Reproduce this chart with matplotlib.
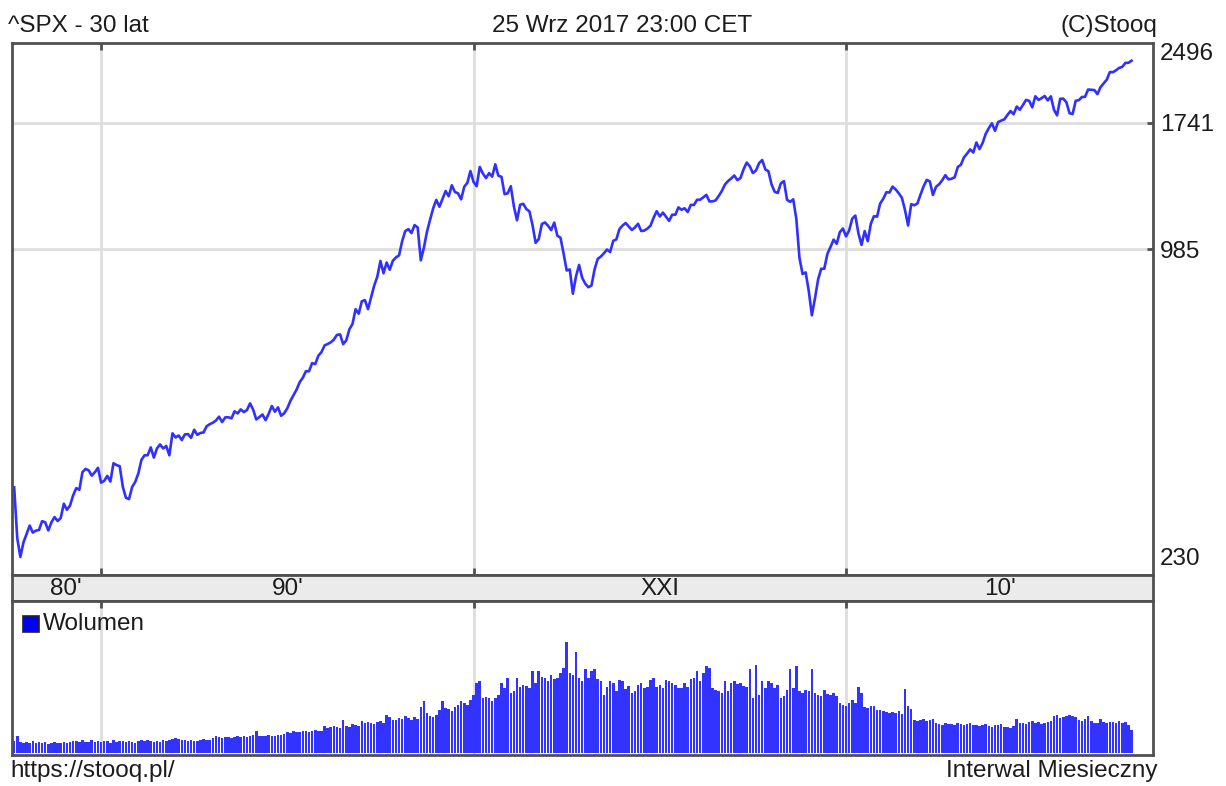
import numpy as np
import matplotlib
matplotlib.use('Agg')
import matplotlib.pyplot as plt
from matplotlib.patches import Rectangle

# ^SPX - zamknięcia miesięczne, od wrz 1987 do wrz 2017
close = [
    321.83, 251.79, 230.30, 247.08,
    257.07, 267.82, 258.89, 261.33, 262.16, 273.50, 272.02, 261.52, 271.91, 278.97, 273.70, 277.72,
    297.47, 288.86, 294.87, 309.64, 320.52, 317.98, 346.08, 351.45, 349.15, 340.36, 345.99, 353.40,
    329.08, 331.89, 339.94, 330.80, 361.23, 358.02, 356.15, 322.56, 306.05, 304.00, 322.22, 330.22,
    343.93, 367.07, 375.22, 375.35, 389.83, 371.16, 387.81, 395.43, 387.86, 392.45, 375.22, 417.09,
    408.79, 412.70, 403.69, 414.95, 415.35, 408.14, 424.21, 414.03, 417.80, 418.68, 431.35, 435.71,
    438.78, 443.38, 451.67, 440.19, 450.19, 450.53, 448.13, 463.56, 458.93, 467.83, 461.79, 466.45,
    481.61, 467.14, 445.77, 450.91, 456.50, 444.27, 458.26, 475.49, 462.69, 472.35, 453.69, 459.27,
    470.42, 487.39, 500.71, 514.71, 533.40, 544.75, 562.06, 561.88, 584.41, 581.50, 605.37, 615.93,
    636.02, 640.43, 645.50, 654.17, 669.12, 670.63, 639.95, 651.99, 687.31, 705.27, 757.02, 740.74,
    786.16, 790.82, 757.12, 801.34, 848.28, 885.14, 954.31, 899.47, 947.28, 914.62, 955.40, 970.43,
    980.28, 1049.34, 1101.75, 1111.75, 1090.82, 1133.84, 1120.67, 957.28, 1017.01, 1098.67, 1163.63, 1229.23,
    1279.64, 1238.33, 1286.37, 1335.18, 1301.84, 1372.71, 1328.72, 1320.41, 1282.71, 1362.93, 1388.91, 1469.25,
    1394.46, 1366.42, 1498.58, 1452.43, 1420.60, 1454.60, 1430.83, 1517.68, 1436.51, 1429.40, 1314.95, 1320.28,
    1366.01, 1239.94, 1160.33, 1249.46, 1255.82, 1224.42, 1211.23, 1133.58, 1040.94, 1059.78, 1139.45, 1148.08,
    1130.20, 1106.73, 1147.39, 1076.92, 1067.14, 989.82, 911.62, 916.07, 815.28, 885.76, 936.31, 879.82,
    855.70, 841.15, 848.18, 916.92, 963.59, 974.50, 990.31, 1008.01, 995.97, 1050.71, 1058.20, 1111.92,
    1131.13, 1144.94, 1126.21, 1107.30, 1120.68, 1140.84, 1101.72, 1104.24, 1114.58, 1130.20, 1173.82, 1211.92,
    1181.27, 1203.60, 1180.59, 1156.85, 1191.50, 1191.33, 1234.18, 1220.33, 1228.81, 1207.01, 1249.48, 1248.29,
    1280.08, 1280.66, 1294.83, 1310.61, 1270.09, 1270.20, 1276.66, 1303.82, 1335.85, 1377.94, 1400.63, 1418.30,
    1438.24, 1406.82, 1420.86, 1482.37, 1530.62, 1503.35, 1455.27, 1473.99, 1526.75, 1549.38, 1481.14, 1468.36,
    1378.55, 1330.63, 1322.70, 1385.59, 1400.38, 1280.00, 1267.38, 1282.83, 1166.36, 968.75, 896.24, 903.25,
    825.88, 735.09, 797.87, 872.81, 919.14, 919.32, 987.48, 1020.62, 1057.08, 1036.19, 1095.63, 1115.10,
    1073.87, 1104.49, 1169.43, 1186.69, 1089.41, 1030.71, 1101.60, 1049.33, 1141.20, 1183.26, 1180.55, 1257.64,
    1286.12, 1327.22, 1325.83, 1363.61, 1345.20, 1320.64, 1292.28, 1218.89, 1131.42, 1253.30, 1246.96, 1257.60,
    1312.41, 1365.68, 1408.47, 1397.91, 1310.33, 1362.16, 1379.32, 1406.58, 1440.67, 1412.16, 1416.18, 1426.19,
    1498.11, 1514.68, 1569.19, 1597.57, 1630.74, 1606.28, 1685.73, 1632.97, 1681.55, 1756.54, 1805.81, 1848.36,
    1782.59, 1859.45, 1872.34, 1883.95, 1923.57, 1960.23, 1930.67, 2003.37, 1972.29, 2018.05, 2067.56, 2058.90,
    1994.99, 2104.50, 2067.89, 2085.51, 2107.39, 2063.11, 2103.84, 1972.18, 1920.03, 2079.36, 2080.41, 2043.94,
    1940.24, 1932.23, 2059.74, 2065.30, 2096.95, 2098.86, 2173.60, 2170.95, 2168.27, 2126.15, 2198.81, 2238.83,
    2278.87, 2363.64, 2362.72, 2384.20, 2411.80, 2423.41, 2470.30, 2471.65, 2496.66,
]

# wolumen (jednostki względne)
volume = [
    12, 17, 11, 10,
    11, 10, 12, 10, 11, 10, 11, 9, 10, 11, 10, 10,
    11, 10, 11, 12, 12, 11, 13, 11, 11, 13, 11, 12,
    11, 12, 12, 10, 13, 11, 12, 12, 11, 12, 11, 10,
    12, 13, 12, 13, 12, 11, 12, 11, 13, 12, 13, 14,
    15, 14, 13, 13, 12, 13, 12, 12, 13, 14, 13, 13,
    15, 17, 16, 15, 16, 16, 15, 16, 17, 16, 17, 16,
    17, 18, 22, 17, 17, 17, 18, 17, 17, 18, 18, 19,
    21, 20, 22, 21, 21, 22, 22, 21, 22, 23, 22, 22,
    27, 25, 26, 27, 26, 25, 33, 27, 26, 29, 28, 27,
    32, 30, 31, 30, 29, 31, 32, 30, 38, 36, 33, 33,
    35, 34, 37, 35, 33, 36, 34, 46, 52, 40, 37, 36,
    38, 43, 52, 45, 44, 42, 46, 48, 52, 50, 48, 53,
    58, 70, 72, 55, 56, 55, 52, 55, 58, 70, 65, 75,
    60, 62, 75, 66, 68, 67, 65, 82, 70, 82, 76, 75,
    72, 78, 74, 75, 80, 85, 111, 80, 78, 101, 75, 72,
    84, 75, 82, 84, 74, 72, 58, 66, 72, 70, 62, 73,
    72, 64, 67, 60, 62, 68, 70, 65, 66, 73, 75, 66,
    68, 65, 73, 72, 70, 68, 65, 65, 70, 66, 74, 75,
    82, 72, 80, 87, 85, 65, 63, 62, 60, 72, 62, 70,
    72, 69, 70, 67, 66, 84, 55, 88, 58, 72, 65, 72,
    70, 65, 68, 55, 57, 63, 84, 65, 87, 62, 60, 63,
    62, 84, 60, 58, 57, 63, 59, 58, 60, 57, 50, 48,
    47, 50, 53, 50, 66, 60, 46, 45, 47, 47, 43, 43,
    42, 41, 40, 41, 40, 42, 39, 64, 47, 44, 33, 32,
    33, 34, 32, 33, 34, 30, 29, 28, 30, 29, 29, 28,
    30, 29, 28, 29, 30, 28, 28, 27, 28, 29, 27, 26,
    28, 28, 29, 26, 26, 25, 27, 34, 30, 30, 29, 31,
    32, 30, 31, 29, 30, 31, 32, 37, 38, 35, 36, 37,
    38, 37, 36, 33, 32, 34, 37, 32, 30, 30, 34, 31,
    30, 31, 31, 30, 32, 30, 31, 28, 23,
]

decade_labels = ["80'", "90'", "XXI", "10'"]
decade_label_pos = [16.7, 88, 208, 317.5]   # miesiac od wrz 1987
decade_lines = [28, 148, 268]               # sty 1990, sty 2000, sty 2010
ytick_labels = ['230', '985', '1741', '2496']

title_left = '^SPX - 30 lat'
title_mid = '25 Wrz 2017 23:00 CET'
title_right = '(C)Stooq'
foot_left = 'https://stooq.pl/'
foot_right = 'Interwal Miesieczny'

plt.rcParams['font.family'] = ['Liberation Sans', 'DejaVu Sans']
FS = 17.5
TXT = '#1c1c1c'
FRAME = '#505050'
GRID = '#dedede'
LINE = '#3030ff'
BAR = '#3333ff'

W, H = 1226, 786
idx = np.arange(len(close))
xlim = (-0.7, 366.9)

fig = plt.figure(figsize=(W / 100, H / 100), dpi=100)
fig.patch.set_facecolor('white')

def box(top, bottom):
    return [12 / W, 1 - bottom / H, 1141 / W, (bottom - top) / H]

ax = fig.add_axes(box(43, 575))
band = fig.add_axes(box(575, 601))
axv = fig.add_axes(box(601, 755))

for a in (ax, band, axv):
    a.set_xlim(*xlim)
    for s in a.spines.values():
        s.set_color(FRAME)
        s.set_linewidth(2)

# glowny wykres
ax.set_yscale('log')
ax.set_ylim(211.2, 2718)
for x in decade_lines:
    ax.axvline(x, color=GRID, lw=2, zorder=0)
grid_vals = [1010, 1855]
for y in grid_vals:
    ax.axhline(y, color=GRID, lw=2, zorder=0)
ax.plot(idx, close, color=LINE, lw=1.9, solid_joinstyle='round')

ax.yaxis.tick_right()
ax.set_yticks(grid_vals)
ax.set_yticklabels(ytick_labels[1:3])
ax.yaxis.set_minor_locator(matplotlib.ticker.NullLocator())
ax.tick_params(axis='y', direction='in', length=4, width=2, color=FRAME,
               labelsize=FS, labelcolor=TXT, pad=5)
ax.set_xticks(decade_lines)
ax.tick_params(axis='x', direction='in', length=5, width=2, color=FRAME,
               top=True, bottom=True, labelbottom=False)
ax.text(1.006, 0.031, ytick_labels[0], transform=ax.transAxes, fontsize=FS,
        color=TXT, ha='left', va='center')
ax.text(1.006, 0.979, ytick_labels[3], transform=ax.transAxes, fontsize=FS,
        color=TXT, ha='left', va='center')

# pasek z dekadami
band.set_facecolor('#ebebeb')
band.set_ylim(0, 1)
band.set_yticks([])
band.set_xticks([])
for lab, pos in zip(decade_labels, decade_label_pos):
    band.text(pos, 0.24, lab, fontsize=FS, color=TXT, ha='center', va='baseline')

# wolumen
for x in decade_lines:
    axv.axvline(x, color=GRID, lw=2, zorder=0)
axv.bar(idx, volume, width=0.82, color=BAR, linewidth=0, zorder=2)
axv.set_ylim(-1.5, 152)
axv.set_yticks([])
axv.set_xticks(decade_lines)
axv.tick_params(axis='x', direction='in', length=5, width=2, color=FRAME,
                top=True, bottom=False, labelbottom=False)

fig.patches.append(Rectangle((23 / W, 1 - 632 / H), 16 / W, 16 / H,
                             transform=fig.transFigure, facecolor='#0000ff',
                             edgecolor='#222222', lw=1.2))
fig.text(43 / W, 1 - 630.5 / H, 'Wolumen', fontsize=FS, color=TXT, va='baseline')

# napisy
fig.text(8 / W, 1 - 32 / H, title_left, fontsize=FS, color=TXT, va='baseline')
fig.text(622 / W, 1 - 32 / H, title_mid, fontsize=FS, color=TXT, va='baseline', ha='center')
fig.text(1157 / W, 1 - 32 / H, title_right, fontsize=FS, color=TXT, va='baseline', ha='right')
fig.text(10 / W, 1 - 777 / H, foot_left, fontsize=FS, color=TXT, va='baseline')
fig.text(1158 / W, 1 - 777.5 / H, foot_right, fontsize=FS, color=TXT, va='baseline', ha='right')

fig.savefig('out.png', dpi=100)
